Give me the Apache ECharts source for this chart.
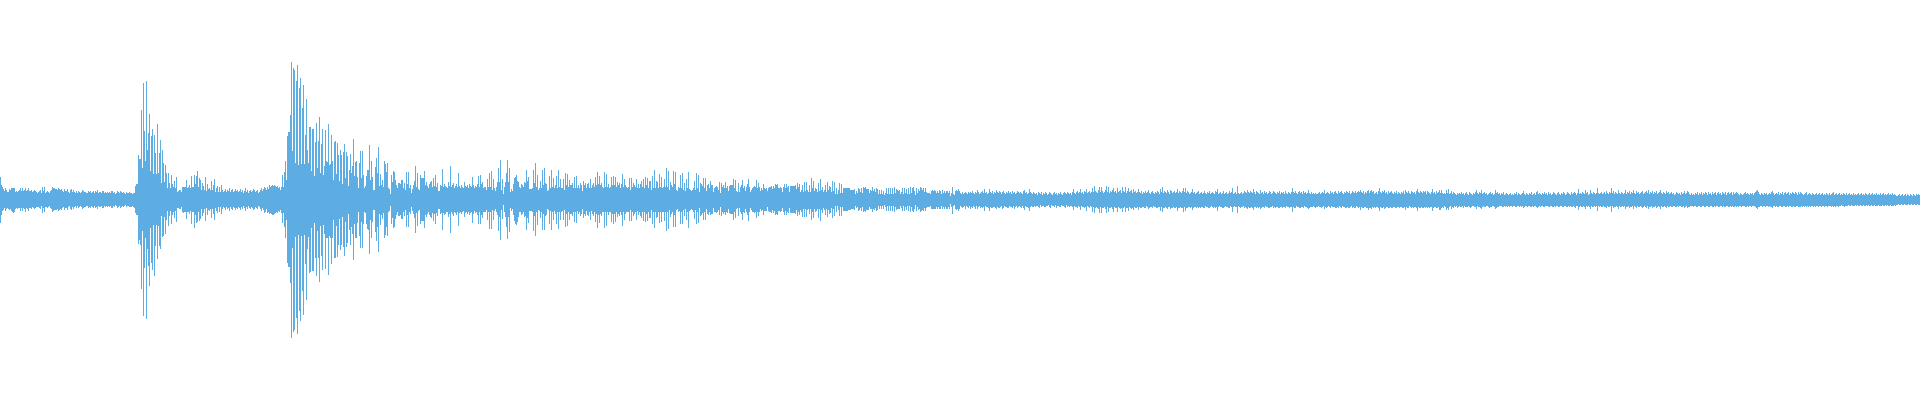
<!DOCTYPE html>
<html><head><meta charset="utf-8">
<style>html,body{margin:0;padding:0;background:#fff}#c{width:1920px;height:400px}</style>
<script src="https://cdn.jsdelivr.net/npm/echarts@6/dist/echarts.min.js"></script>
</head><body><div id="c"></div>
<script>
const upperLead=[23,15,13,11,9,12,10,8,8,11,10,12,12,12,12,8,9,8,9,10,
12,9,12,9,10,12,9,10,12,9,9,10,8,9,10,9,8,7,8,9,
10,7,13,9,13,7,8,9,8,7,9,10,13,12,12,11,11,10,12,11,
10,11,9,8,11,9,9,11,8,7,10,11,8,10,8,7,9,7,9,8,
7,8,10,9,8,8,7,7,9,8,9,7,8,9,7,9,8,10,7,8,
8,7,9,9,7,8,7,8,7,8,7,9,9,7,8,6,7,9,8,7,
9,8,7,8,7,6,8,7,7,8];
const lowerLead=[23,15,11,10,8,11,9,8,9,10,9,11,12,13,12,9,8,9,8,8,
11,8,11,8,9,12,8,9,11,8,8,9,7,8,9,8,7,7,7,8,
9,6,13,8,12,7,7,8,7,6,8,9,12,11,10,10,10,9,11,10,
9,10,8,7,10,8,8,10,7,6,9,10,7,9,7,6,8,6,8,7,
6,7,9,8,7,7,6,6,8,7,8,6,7,8,6,8,7,9,6,7,
7,6,8,8,6,7,6,7,6,7,6,8,8,6,7,5,6,8,7,6,
8,7,6,7,6,5,7,6,6,7];
const upperBurst1=[7,7,6,7,7,14,16,16,45,41,41,90,32,117,69,39,119,50,67,86,
29,64,71,26,65,47,26,76,27,47,60,17,50,37,18,35,27,12,27,17,
12,25,16,13,19,12,23,8,9,10,10,8,13,13,13,13,20,12,13,15,
12,24,13,13,25,16,24,29,13,22,20,10,17,14,10,23,9,16,11,12,
10,19,10,15,21,8,12,14,8,13,8,15,10,8,
9,11,8,10,9,12,8,10,11,8,9,11,9,10,8,9,11,8,10,7,
9,12,8,10,7,9,10,8,9,11,10,8,9,10,7,8,10,12,9,11,
13,12,10,13,11,15,13,14,15,14,15,14,13,14,12,13];
const lowerBurst1=[7,7,6,7,8,13,15,15,44,40,45,89,31,116,68,38,119,49,66,86,
28,63,70,25,76,46,25,59,26,46,49,16,37,36,17,34,20,11,26,16,
11,24,15,12,18,11,22,8,8,9,9,7,12,13,12,12,19,12,12,14,
11,24,12,12,28,15,23,22,12,21,19,9,16,13,9,21,8,15,10,11,
9,18,9,14,20,8,11,13,7,12,7,14,9,7,
8,10,7,9,8,11,7,9,10,7,8,10,8,9,7,8,10,7,9,6,
8,11,7,9,6,8,9,7,8,10,9,7,8,9,6,7,9,11,8,10,
13,12,9,13,12,14,13,14,15,15,14,13,12,13,11,12];
const upperBurst2=[10,13,25,13,28,39,20,64,68,68,85,138,49,132,130,37,119,135,35,112,
122,36,92,115,36,65,101,50,37,73,73,29,71,71,24,58,77,32,59,83,
27,56,71,25,34,70,39,38,76,35,36,65,39,20,58,59,26,57,45,19,
50,45,16,48,56,22,48,44,14,30,46,27,34,61,24,38,39,23,12,37,
49,22,49,25,12,14,24,30,30,55,20,39,23,10,10,33,42,27,53,14,
26,15,20,13,39,36,28,37,12,11,6,25,18,29,28,20,15,12,17,17,
16,20,20,12,17,10,28,16,28,12,15,7,11,15,19,34,13,27,11,10,
25,22,22,22,29,15,18,14,12,16,18,19,13,22,14,25,13,17,9,9];
const lowerBurst2=[10,13,23,13,27,38,20,63,67,67,83,138,48,132,130,37,118,134,35,111,
121,36,91,115,35,64,100,49,37,73,72,28,71,71,23,58,76,31,58,82,
26,56,70,25,34,69,38,38,75,36,38,64,38,20,58,58,26,57,45,19,
50,45,17,47,56,22,47,43,14,30,45,27,34,60,24,38,38,23,12,36,
48,22,48,24,12,13,24,29,30,54,20,38,22,10,10,32,41,27,52,14,
25,15,19,13,38,35,27,36,12,11,6,24,18,28,27,19,15,12,16,16,
15,19,19,12,16,10,27,15,27,12,14,7,11,14,18,33,13,26,11,10,
24,21,21,21,28,15,17,14,12,15,17,18,13,21,14,24,13,16,9,9];
const upperDecay0=[15,14,31,13,16,14,13,12,18,14,34,13,15,17,12,14,16,13,27,14,
12,15,13,12,18,14,13,15,12,16,14,13,23,15,12,14,13,16,24,13];
const lowerDecay0=[14,13,30,13,15,14,12,12,17,14,33,12,14,16,12,13,15,12,26,13,
12,14,12,11,17,13,12,14,12,15,13,12,23,14,11,13,12,15,24,12];
const upperDecay1=[25,16,18,12,13,13,10,21,13,27,13,29,10,21,12,9,13,18,32,18,
40,10,21,6,13,18,27,40,18,32,8,11,9,16,22,23,25,19,18,13,
12,16,15,13,18,17,30,19,23,11,11,11,12,30,17,37,13,25,10,12,
19,12,30,15,32,17,16,9,10,24,12,30,13,22,12,15,24,12,30,13,
21,12,12,21,10,27,15,26,13,20,15,15,17,12,23,12,24,12,15,12,
17,15,9,19,15,17,12,16,17,12,21,12,15,17,13,23,15,28,16,24,
15,17,13,12,28,13,26,13,16,12,13,23,15,24,15,23,13,18,15,17,
12,16,26,13,21,15,13,12,13,22,10,22,13,17,15,13,21,12,16,12];
const lowerDecay1=[24,15,18,12,12,12,10,20,12,29,12,29,10,20,11,9,12,15,31,17,
40,10,19,5,12,17,27,39,17,32,8,11,9,15,21,24,25,22,17,12,
12,15,14,12,17,16,30,18,23,11,11,11,12,31,16,36,12,25,10,11,
18,12,30,14,30,16,15,9,10,24,11,30,12,20,11,14,24,12,29,12,
20,12,11,20,10,27,14,26,12,20,14,14,16,12,22,12,23,11,14,12,
16,14,9,18,14,16,11,15,16,12,20,11,14,16,12,22,14,28,15,23,
14,16,12,12,28,12,26,12,15,12,12,22,14,24,14,22,12,17,14,16,
12,15,26,12,20,14,12,12,12,21,10,21,12,16,14,12,20,11,15,12];
const upperDecay2=[16,19,13,21,12,23,15,22,12,19,19,10,24,12,30,12,19,18,12,26,
13,23,12,13,21,13,32,13,29,10,18,15,13,29,16,28,10,9,13,12,
25,12,27,10,17,9,21,12,28,11,10,9,10,12,19,10,27,12,25,8,
17,16,14,22,12,22,9,15,16,12,19,15,15,8,12,13,14,13,10,18,
7,17,13,15,12,18,12,14,9,14,15,15,15,21,12,20,9,8,17,8,
13,15,20,12,14,9,13,16,21,13,8,10,12,13,14,13,20,12,17,13,
9,12,10,16,12,11,12,9,12,13,13,14,11,14,12,16,15,16,12,12,
13,12,8,13,16,12,16,13,14,8,14,14,14,14,14,15,11,17,13,16];
const lowerDecay2=[16,18,12,21,12,22,14,21,12,18,18,10,24,12,28,12,18,17,12,23,
12,22,12,12,21,12,31,12,29,10,17,14,12,27,15,27,10,9,12,11,
24,12,24,10,16,9,20,12,28,11,10,9,10,12,19,10,24,12,23,8,
16,15,13,20,12,20,9,14,15,12,15,14,14,8,12,12,13,12,10,15,
7,16,12,14,12,15,12,13,9,13,14,14,14,20,12,18,9,8,16,8,
12,14,20,12,13,9,12,15,21,12,8,10,12,12,13,12,18,12,16,12,
9,11,10,15,11,11,11,7,11,12,12,13,10,13,11,15,14,15,11,11,
12,11,8,12,15,11,15,12,13,8,13,13,13,13,13,14,10,16,12,15];
const upperDecay3=[8,10,15,8,18,9,18,10,8,15,8,22,12,19,9,12,11,8,17,9,
21,10,13,8,10,15,8,18,10,14,13,8,19,9,18,6,12,6,10,17,
7,16,7,12,12,12,12,12,12,12,10,10,10,10,11,6,9,7,12,11,
8,12,7,13,12,13,11,11,11,7,10,9,13,9,11,8,12,11,6,10,
6,10,6,9,5,7,12,6,12,6,12,6,12,6,13,7,11,10,9,10,
6,8,12,6,12,7,11,6,12,6,13,7,12,13,9,5,12,7,11,9,
13,12,10,12,8,12,8,7,7,7,6,9,10,9,10,9,7,9,7,10,
9,6,10,7,9,7,9,9,7,9,4,7,13,6,5,9,10,9,11,9];
const lowerDecay3=[10,12,17,9,17,9,17,10,9,14,9,20,12,18,9,12,11,9,18,9,
21,10,13,8,10,15,9,17,10,14,13,8,18,9,16,6,12,6,10,16,
7,16,7,11,11,11,11,11,10,10,10,9,9,9,10,6,8,7,11,10,
8,11,7,12,11,12,10,10,10,7,9,9,12,9,10,8,11,10,6,9,
6,9,6,9,5,7,11,6,11,6,11,6,11,6,12,7,10,9,9,9,
6,8,11,6,11,7,10,6,11,6,12,7,11,12,9,5,11,7,10,9,
12,11,10,11,8,11,8,7,7,7,6,9,9,9,9,9,7,9,7,9,
9,6,9,7,9,7,9,9,7,9,4,7,14,6,5,9,10,9,11,9];
const upperTail1=[7,6,8,6,7,8,7,6,8,7,8,7,9,7,6,8,7,10,8,6,
7,8,9,7,11,7,8,6,7,11,8,7,9,6,8,7,10,8,7,9,
8,6,8,9,7,6,8,7,9,7,8,6,9,7,8,6,7,9,8,7,
8,7,6,9,10,7,8,6,7,11,8,7,6,8,7,6,7,5,8,7,
6,8,5,7,6,8,7,5,6,8,7,6,5,7,8,6,7,5,7,6,
8,6,5,7,8,7,6,8,7,6,7,5,8,11,7,6,8,9,7,8,
11,7,8,6,9,8,11,7,8,9,7,8,12,8,14,9,8,7,10,13,
8,13,9,7,8,10,14,8,13,7,9,8,10,12,8,9,7,12,8,9,
10,7,13,9,8,13,7,9,12,8,9,10,7,11,8,9,7,8,11,8,
7,9,6,8,7,9,7,8,10,7,6,8,9,7,6,8,7,9,8,6,
11,8,13,7,9,8,7,10,8,6,10,9,7,8,9,7,8,11,7,9,
8,7,9,12,8,12,7,9,8,6,7,8,11,7,8,6,7,8,9,6,
7,8,6,7,9,7,6,8,7,9,6,7,8,7,6,9,8,11,6,7,
8,6,7,9,6,7,8,6,7,9,7,8,12,6,7,8,6,14,7,6,
7,8,6,7,9,8,7,10,8,7,9,8,7,11,8,6,9,8,7,6,
10,7,8,6,9,7,8,6,7,9,8,6,7,9,8,7,6,8,7,9,
6,8,7,8,6,9,7,6,8,7,6,8,12,8,7,9,7,6,8,9,
7,8,6,9,7,8,6,7,10,7,6,8,6,7,6,7,6,6,7,8,
6,7,8,7,10,6,7,8,7,6,9,7,8,6,8,9,7,6,9,7,
8,9,7,6,8,7,9,8,7,9,6,7,9,8,7,9,7,8,9,8,
10,8,7,9,6,8,7,9,10,7,9,10,8,9,6,7,8,6,9,12,
8,7,9,8,10,7,8,6,9,7,8,9,7,6,8,7,9,6,8,7,
6,8,7,9,6,10,8,7,9,7,6,9,8,7,8,6,9,11,8,7,
9,8,7,9,8,9,6,9,8,7,6,8,11,7,8,6,9,7,8,10];
const lowerTail1=[6,7,8,7,6,9,6,7,8,6,9,7,8,6,7,9,6,9,7,6,
8,7,8,7,11,6,7,7,8,11,7,8,8,7,7,8,9,7,8,8,
7,6,9,8,6,7,7,8,8,6,7,7,8,6,9,7,6,8,7,6,
7,8,6,8,10,6,7,7,8,11,7,6,7,7,6,7,6,6,7,8,
5,7,6,6,7,7,6,6,5,7,8,5,6,6,7,5,8,6,6,7,
7,5,6,6,7,8,5,7,6,7,6,6,7,10,6,7,7,8,6,7,
10,6,7,7,8,7,11,6,7,8,6,7,12,7,13,8,7,8,9,13,
7,13,8,8,7,9,13,7,12,8,8,7,9,12,7,8,8,12,7,8,
9,8,12,8,7,12,8,8,11,7,8,9,8,10,7,8,8,7,10,7,
8,8,7,7,8,8,6,7,9,8,7,7,8,6,7,7,8,8,7,7,
11,7,12,8,8,7,8,9,7,7,9,8,8,7,8,8,7,11,8,8,
7,8,8,12,7,11,8,8,7,7,8,7,10,8,7,7,8,7,8,7,
8,7,7,8,8,6,7,7,8,8,7,6,7,8,7,8,7,11,7,6,
7,7,8,8,7,6,7,7,8,8,6,7,12,7,6,7,7,13,6,7,
8,7,7,6,8,7,8,9,7,8,8,7,8,10,7,7,8,7,8,7,
9,8,7,7,8,6,7,7,8,8,7,7,6,8,7,8,7,7,8,8,
7,7,8,7,7,8,6,7,7,8,7,7,12,7,8,8,6,7,7,8,
8,7,7,8,6,7,7,8,9,8,7,7,7,6,7,8,7,7,6,7,
7,8,7,6,9,7,8,7,6,7,8,6,7,7,7,8,8,7,8,6,
7,8,6,7,7,8,8,7,8,8,7,6,8,7,8,8,6,7,8,7,
10,7,8,8,7,7,8,8,10,8,8,9,7,8,7,8,7,7,8,11,
7,8,8,7,9,8,7,7,8,8,7,8,8,7,7,8,8,7,7,8,
7,7,8,8,7,10,7,8,8,6,7,8,7,8,7,7,8,11,7,8,
8,7,8,8,7,8,7,8,7,8,7,7,11,8,7,7,8,8,7,10];
const upperTail2=[7,10,7,6,7,6,10,7,11,6,7,9,6,8,7,6,5,7,6,7,
6,8,6,7,5,7,8,6,5,8,7,6,5,7,6,8,10,7,6,8,
7,10,6,7,8,6,7,5,6,7,8,6,7,5,6,10,7,8,6,7,
5,7,6,8,5,6,7,6,5,6,7,5,6,5,7,6,8,5,7,6,
5,6,7,9,6,5,7,6,5,7,6,8,5,6,7,5,8,9,6,7,
6,5,7,6,8,6,7,5,8,6,7,5,6,8,7,6,5,7,8,6,
5,7,6,8,7,5,6,8,7,6,5,8,6,7,8,7,5,7,11,6,
7,6,8,7,6,10,7,8,5,6,10,7,6,8,7,6,7,12,7,6,
7,8,6,7,8,6,9,7,6,8,7,12,7,9,6,8,7,6,10,7,
6,8,7,6,7,10,6,8,7,9,6,8,7,10,7,6,9,7,8,6,
7,8,9,6,7,8,9,7,10,6,8,7,9,6,8,7,9,6,7,8,
10,7,6,8,7,6,9,7,8,6,7,8,6,7,5,6,8,7,6,7,
5,8,6,7,9,6,7,9,8,6,5,7,5,6,5,7,6,8,5,7,
6,8,5,7,6,8,7,5,8,6,7,5,8,6,7,8,5,7,8,6,
7,5,8,7,6,8,5,7,8,6,7,8,5,8,6,7,8,7,6,5,
7,6,5,6,7,8,6,7,6,5,7,6,7,5,7,8,9,10,8,6,
5,7,6,5,7,6,7,5,6,7,6,8,9,7,5,6,7,6,8,5,
7,6,8,5,7,8,6,7,8,5,7,6,8,7,6,8,7,5,8,6,
8,7,6,5,6,7,8,5,6,7,6,5,7,6,5,6,7,5,6,7,
5,6,7,5,6,5,7,6,5,7,5,6,7,8,5,6,7,5,6,7,
5,6,5,7,6,5,7,5,6,7,5,6,5,7,5,6,5,6,7,5,
6,7,5,6,5,7,6,5,6,7,5,6,7,5,6,5,7,5,6,5,
7,5,6,7,5,6,5,6,7,5,6,5,7,5,6,5,4,4,5,6,
4,5,6,4,5,6,4,6,5,4,6,5,4,6,5,4,6,5,6,5];
const lowerTail2=[10,8,7,8,6,7,10,8,10,7,6,9,7,8,6,7,6,8,7,6,
7,7,6,8,6,7,7,7,6,7,8,7,6,6,7,7,9,6,7,7,
8,9,7,6,7,7,6,6,7,8,7,7,6,6,7,9,8,7,7,6,
6,6,7,7,6,7,6,7,6,7,6,6,7,6,6,7,7,6,6,7,
6,7,6,8,7,6,6,7,6,6,7,7,6,7,6,6,7,8,7,6,
7,6,6,7,7,6,6,6,7,7,6,6,7,7,6,7,6,6,7,7,
6,6,7,7,6,6,7,7,6,7,6,7,7,6,7,8,6,6,10,7,
6,7,7,6,7,9,6,7,6,7,9,6,7,7,6,7,6,11,6,7,
6,7,7,6,7,7,8,6,7,7,6,12,6,8,7,7,6,7,9,6,
7,7,6,7,6,9,7,7,6,8,7,7,6,9,6,7,8,6,7,7,
6,7,8,7,6,7,8,6,9,7,7,6,8,7,7,6,8,7,6,7,
9,6,7,7,6,7,8,6,7,7,6,7,7,6,6,7,7,6,7,6,
6,7,7,6,8,7,6,8,7,7,6,6,6,7,6,6,7,7,6,6,
7,7,6,6,7,7,6,6,7,7,6,6,7,7,6,7,6,6,7,7,
6,6,7,6,7,7,6,6,7,7,6,7,6,7,7,6,7,6,7,6,
6,7,6,6,6,7,7,6,7,6,6,7,6,6,6,7,8,9,7,7,
6,6,7,6,6,7,6,6,7,6,7,7,8,6,6,7,6,7,7,6,
6,7,7,6,6,7,7,6,7,6,6,7,7,6,7,7,6,6,7,7,
7,6,7,6,7,6,7,6,7,6,7,6,6,7,6,7,6,6,7,6,
6,7,6,6,7,6,6,7,6,6,6,7,6,7,6,7,6,6,7,6,
6,5,6,6,7,6,6,6,5,6,6,5,6,6,6,5,6,5,6,6,
5,6,6,5,6,6,5,6,5,6,6,5,6,6,5,6,6,6,5,6,
6,6,5,6,6,5,6,5,6,6,5,6,6,6,5,6,5,5,4,5,
5,4,5,5,4,5,5,5,4,5,5,4,5,5,4,5,5,4,5,5];

const upper=[].concat(upperLead,upperBurst1,upperBurst2,upperDecay0,upperDecay1,upperDecay2,upperDecay3,upperTail1,upperTail2);
const lower=[].concat(lowerLead,lowerBurst1,lowerBurst2,lowerDecay0,lowerDecay1,lowerDecay2,lowerDecay3,lowerTail1,lowerTail2).map(v=>-v);
const columns=upper.map((_,i)=>i);
const chart=echarts.init(document.getElementById('c'),null,{renderer:'canvas'});
chart.setOption({
  animation:false,
  grid:{left:0,top:0,width:1920,height:400,containLabel:false},
  xAxis:{type:'category',data:columns,show:false,boundaryGap:true},
  yAxis:{type:'value',min:-200,max:200,show:false},
  series:[
    {type:'bar',data:upper,barWidth:1,barGap:'-100%',itemStyle:{color:'#5dade2'},silent:true},
    {type:'bar',data:lower,barWidth:1,barGap:'-100%',itemStyle:{color:'#5dade2'},silent:true}
  ]
});
</script></body></html>
